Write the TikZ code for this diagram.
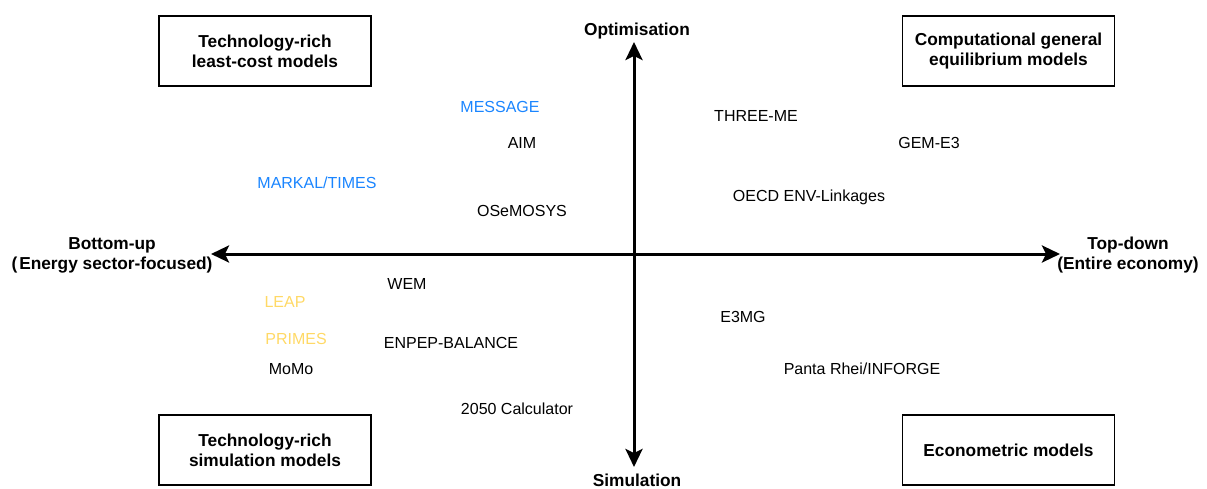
\documentclass[tikz,border=0pt]{standalone}
\usepackage{fontspec}
\setmainfont{Liberation Sans}
\usetikzlibrary{arrows.meta}
\definecolor{mblue}{HTML}{1A85FF}
\definecolor{myellow}{HTML}{FFD966}
\tikzset{
  catbox/.style={draw=black, line width=1.3pt, minimum width=212pt, minimum height=70pt, align=center, font=\fontsize{17.3}{20}\selectfont\bfseries, inner sep=0pt},
  axislbl/.style={align=center, font=\fontsize{17.3}{20}\selectfont\bfseries, inner sep=0pt},
  model/.style={anchor=base, inner sep=0pt, font=\fontsize{16}{18}\selectfont},
  axis/.style={line width=3pt, -{Stealth[length=18pt,width=17pt,inset=4pt]}},
}
\begin{document}
\begin{tikzpicture}[x=1pt,y=-1pt]
\useasboundingbox (0,0) rectangle (1207,489);
% category boxes
\node[catbox] (tl) at (265,51) {Technology-rich\\least-cost models};
\node[catbox] (tr) at (1008.5,51) {Computational general\\equilibrium models};
\node[catbox] (bl) at (265,450) {Technology-rich\\simulation models};
\node[catbox] (br) at (1008.5,450) {Econometric models};
% axes
\coordinate (o) at (634,254);
\coordinate (top) at (634,42);
\coordinate (bot) at (634,467);
\coordinate (left) at (211,254);
\coordinate (right) at (1060,254);
\draw[axis] (o) -- (top);
\draw[axis] (o) -- (bot);
\draw[axis] (o) -- (left);
\draw[axis] (o) -- (right);
% axis labels
\node[axislbl, anchor=base] (opt) at (637,36) {Optimisation};
\node[axislbl, anchor=base] (sim) at (637,486) {Simulation};
\node[axislbl] (bu) at (112,255) {Bottom-up\\(\hspace{2pt}Energy sector-focused)};
\node[axislbl] (td) at (1128,255) {Top-down\\(Entire economy)};
% models
\node[model, text=mblue] (message) at (500,113) {MESSAGE};
\node[model] (aim) at (522,149) {AIM};
\node[model, text=mblue] (markal) at (317,189) {MARKAL/TIMES};
\node[model] (osemosys) at (522,216) {OSeMOSYS};
\node[model] (threeme) at (756,122) {THREE-ME};
\node[model] (gem) at (929,149) {GEM-E3};
\node[model] (oecd) at (809,202) {OECD ENV-Linkages};
\node[model] (wem) at (407,289) {WEM};
\node[model, text=myellow] (leap) at (285,307) {LEAP};
\node[model, text=myellow] (primes) at (296,344) {PRIMES};
\node[model] (enpep) at (451,348) {ENPEP-BALANCE};
\node[model] (momo) at (291,374) {MoMo};
\node[model] (e3mg) at (743,322) {E3MG};
\node[model] (panta) at (862,374) {Panta Rhei/INFORGE};
\node[model] (calc) at (517,414) {2050 Calculator};
\end{tikzpicture}
\end{document}
